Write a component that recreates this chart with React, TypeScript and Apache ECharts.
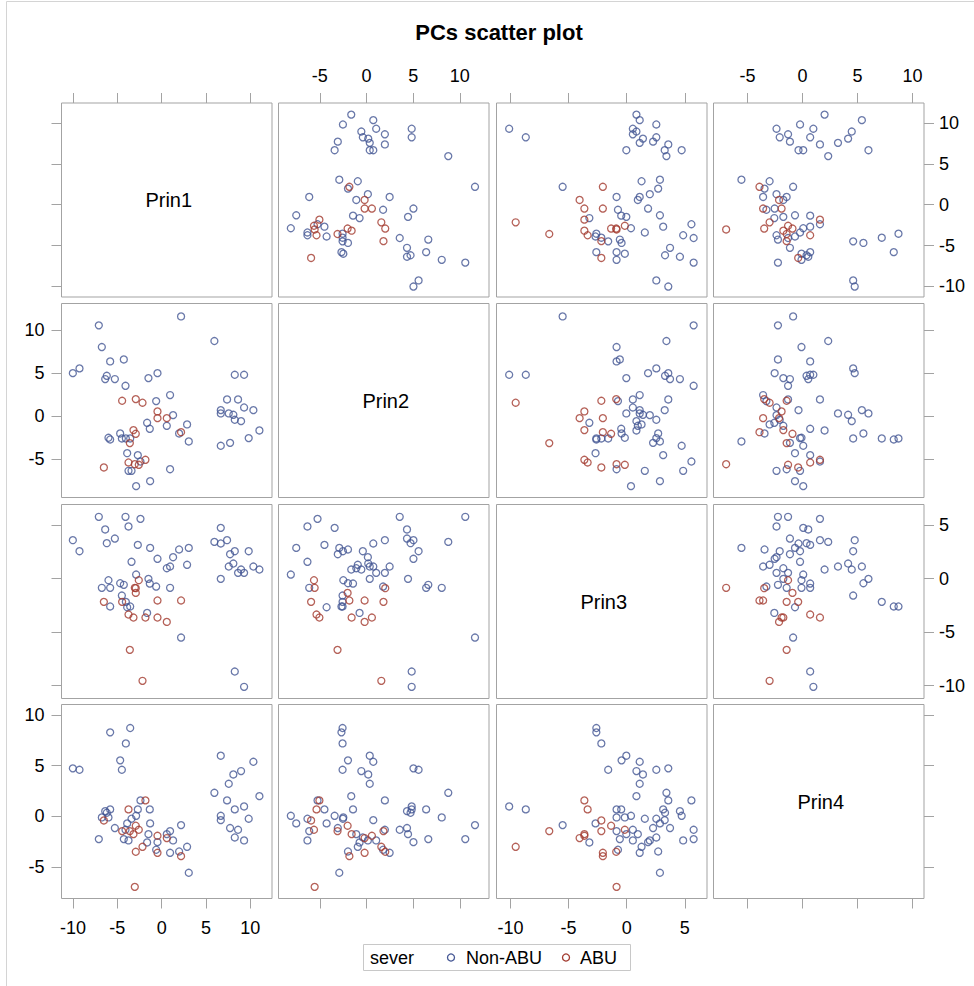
import React, { useEffect, useRef } from "react";
import * as echarts from "echarts";

// ---- data (principal component scores) ----
const VAR_NAMES = ["Prin1", "Prin2", "Prin3", "Prin4"];
const GROUP_NAMES = ["Non-ABU", "ABU"];
const LEGEND_TITLE = "sever";
const TITLE = "PCs scatter plot";

const nonAbuPrin1 = [6.67, 7.38, 5.95, 6.67, 8.25, 9.82, 7.72, 8.09, 7.57, 10.35, 8.96, 11.03, 8.62, 9.30, 6.67, 8.25, 9.30,
  -7.09, -4.08, -2.39, -3.74, -6.37, -5.28, -10.02, -6.19, -2.69, -1.30, 3.06, 1.97, -9.27, 1.29, -0.47, -3.40, 2.87, 0.95,
  0.58, -2.88, -1.49, -6.00, -4.68, -1.34, -4.27, -0.62, -6.75, -5.81, 0.95, -4.49, -4.04, -5.81, -3.55, -3.89, -1.64, 2.19];
const nonAbuPrin2 = [-3.41, 1.97, 8.76, 0.73, -0.39, -2.52, -3.07, 0.19, 0.35, 0.73, -0.55, -1.63, 1.97, 1.04, 0.35, 4.84, 4.84,
  10.58, 3.56, -5.24, -6.32, 4.34, 4.34, 5.03, 4.72, -4.50, -7.52, -2.91, -1.98, 5.58, 0.15, 5.03, -6.32, -0.93, 2.48,
  -1.09, -8.10, 4.45, -2.48, -1.98, -1.44, 6.62, 1.78, 8.06, 6.39, -6.13, -2.56, -2.56, -2.68, -2.56, -4.27, -0.74, 11.62];
const nonAbuPrin3 = [4.73, 3.58, 3.42, 3.27, 2.55, 2.55, 2.27, 1.40, 1.12, 1.12, 0.84, 0.84, 0.53, 0.53, -0.03, -8.68, -10.11,
  5.76, 5.76, 5.57, 4.86, 4.58, 3.73, 3.58, 3.30, 3.14, 2.86, 2.86, 2.71, 2.55, 1.99, 1.84, 1.56, 1.28, 1.12,
  0.96, 0.37, -0.03, -0.16, -0.44, -0.47, -0.59, -0.75, -0.87, -0.87, -0.87, -1.59, -2.18, -2.61, -2.61, -2.68, -3.21, -5.51];
const nonAbuPrin4 = [0.06, 1.58, 2.33, -0.37, -2.08, -0.23, -1.15, 4.14, 3.22, 5.39, 4.47, 2.00, -1.32, -2.37, 5.99, 0.69, 0.98,
  -2.24, -1.32, 1.58, -2.37, 0.52, -1.15, 4.74, 0.36, 0.69, -0.69, -5.56, -3.46, 4.60, -2.37, -2.54, -0.23, -3.00, -3.59,
  -1.75, 0.06, -1.75, -0.10, 5.53, 0.69, -2.24, -3.29, -0.10, 0.69, -1.45, 4.60, 7.20, 8.29, 8.72, -0.69, -2.57, -0.86];

const abuPrin1 = [-2.58, -3.03, -2.92, -6.52, -4.46, 2.19, -0.47, -2.92, -3.74, -3.18, -1.83, -0.47, 0.58, -3.59, -2.16];
const abuPrin2 = [-5.62, -5.55, -2.02, -5.93, 1.82, -1.83, -0.20, 2.01, -5.35, -1.59, -5.04, 0.58, -0.20, -3.10, 1.59];
const abuPrin3 = [-0.16, -0.87, -1.34, -2.18, -2.18, -2.05, -2.05, -0.90, -3.36, -3.64, -3.64, -3.64, -4.05, -6.66, -9.55];
const abuPrin4 = [-1.32, -6.95, -0.92, -0.40, -1.45, -3.92, -3.59, -3.49, 0.69, -1.75, 1.58, -1.91, -2.14, -1.45, -3.00];

// axis ticks and ranges per variable
const TICKS = [
  [-10, -5, 0, 5, 10],
  [-5, 0, 5, 10],
  [-10, -5, 0, 5],
  [-5, 0, 5, 10],
];
const AXIS_MIN = [-11.3, -9.42, -11.2, -8.1];
const AXIS_MAX = [12.45, 13.12, 6.91, 11.04];

// ---- layout ----
const COL_LEFT = [61.5, 278.5, 496.5, 713.5];
const ROW_TOP = [103, 303.5, 504.5, 704.5];
const CELL_W = 210.5;
const CELL_H = 194;
const FONT = "'Liberation Sans', Arial, sans-serif";
const BLUE = "#445694";
const RED = "#A23A2E";
const FRAME = "#a3a3a3";

export default function App() {
  const ref = useRef<HTMLDivElement>(null);

  useEffect(() => {
    if (!ref.current) return;
    const chart = echarts.init(ref.current, undefined, { renderer: "svg" });

    const nonAbu = [nonAbuPrin1, nonAbuPrin2, nonAbuPrin3, nonAbuPrin4];
    const abu = [abuPrin1, abuPrin2, abuPrin3, abuPrin4];

    const grids: any[] = [];
    const xAxes: any[] = [];
    const yAxes: any[] = [];
    const series: any[] = [];
    const graphics: any[] = [];

    graphics.push({
      type: "rect",
      z: -10,
      shape: { x: 6.5, y: 1.5, width: 1000, height: 1000 },
      style: { fill: "none", stroke: "#d4d4d4", lineWidth: 1 },
      silent: true,
    });

    for (let r = 0; r < 4; r++) {
      for (let c = 0; c < 4; c++) {
        const g = r * 4 + c;
        grids.push({
          left: COL_LEFT[c],
          top: ROW_TOP[r],
          width: CELL_W,
          height: CELL_H,
          show: true,
          borderColor: FRAME,
          borderWidth: 1,
          backgroundColor: "#fff",
        });
        const xTicks = r === 0 || r === 3;
        const xLabels = (r === 0 && c % 2 === 1) || (r === 3 && c % 2 === 0);
        xAxes.push({
          gridIndex: g,
          type: "value",
          min: AXIS_MIN[c],
          max: AXIS_MAX[c],
          position: r === 0 ? "top" : "bottom",
          axisLine: { show: false, onZero: false },
          splitLine: { show: false },
          axisTick: {
            show: xTicks,
            length: 10,
            customValues: TICKS[c],
            lineStyle: { color: FRAME, width: 1 },
          },
          axisLabel: {
            show: xLabels,
            customValues: TICKS[c],
            margin: r === 0 ? 18 : 20,
            fontSize: 18,
            fontFamily: FONT,
            color: "#000",
          },
        });
        const yTicks = c === 0 || c === 3;
        const yLabels = (c === 0 && r % 2 === 1) || (c === 3 && r % 2 === 0);
        yAxes.push({
          gridIndex: g,
          type: "value",
          min: AXIS_MIN[r],
          max: AXIS_MAX[r],
          position: c === 3 ? "right" : "left",
          axisLine: { show: false, onZero: false },
          splitLine: { show: false },
          axisTick: {
            show: yTicks,
            length: 10,
            customValues: TICKS[r],
            lineStyle: { color: FRAME, width: 1 },
          },
          axisLabel: {
            show: yLabels,
            customValues: TICKS[r],
            margin: c === 3 ? 15 : 17,
            fontSize: 18,
            fontFamily: FONT,
            color: "#000",
          },
        });

        if (r === c) {
          graphics.push({
            type: "text",
            x: COL_LEFT[c] + CELL_W / 2 + 2,
            y: ROW_TOP[r] + CELL_H / 2,
            style: {
              text: VAR_NAMES[r],
              align: "center",
              verticalAlign: "middle",
              fontSize: 20,
              fontFamily: FONT,
              fill: "#000",
            },
          });
        } else {
          const groups = [nonAbu, abu];
          const colors = [BLUE, RED];
          for (let k = 0; k < 2; k++) {
            const d = groups[k][c].map((v: number, i: number) => [v, groups[k][r][i]]);
            series.push({
              type: "scatter",
              name: GROUP_NAMES[k],
              xAxisIndex: g,
              yAxisIndex: g,
              data: d,
              symbol: "circle",
              symbolSize: 7,
              silent: true,
              itemStyle: { color: "rgba(0,0,0,0)", borderColor: colors[k], borderWidth: 1.3 },
              emphasis: { disabled: true },
            });
          }
        }
      }
    }

    // title
    graphics.push({
      type: "text",
      x: 499,
      y: 32,
      style: {
        text: TITLE,
        align: "center",
        verticalAlign: "middle",
        fontSize: 22,
        fontWeight: "bold",
        fontFamily: FONT,
        fill: "#000",
      },
    });

    // legend
    const ly = 957.5;
    graphics.push({
      type: "rect",
      shape: { x: 363.5, y: 944.5, width: 267, height: 26 },
      style: { fill: "#fff", stroke: "#c8c8c8", lineWidth: 1 },
    });
    graphics.push({
      type: "text",
      x: 370,
      y: ly,
      style: { text: LEGEND_TITLE, align: "left", verticalAlign: "middle", fontSize: 18, fontFamily: FONT, fill: "#000" },
    });
    graphics.push({
      type: "circle",
      shape: { cx: 451, cy: ly, r: 3.5 },
      style: { fill: "none", stroke: BLUE, lineWidth: 1.3 },
    });
    graphics.push({
      type: "text",
      x: 466,
      y: ly,
      style: { text: GROUP_NAMES[0], align: "left", verticalAlign: "middle", fontSize: 18, fontFamily: FONT, fill: "#000" },
    });
    graphics.push({
      type: "circle",
      shape: { cx: 566, cy: ly, r: 3.5 },
      style: { fill: "none", stroke: RED, lineWidth: 1.3 },
    });
    graphics.push({
      type: "text",
      x: 580,
      y: ly,
      style: { text: GROUP_NAMES[1], align: "left", verticalAlign: "middle", fontSize: 18, fontFamily: FONT, fill: "#000" },
    });

    chart.setOption({
      animation: false,
      backgroundColor: "#fff",
      grid: grids,
      xAxis: xAxes,
      yAxis: yAxes,
      series,
      graphic: graphics,
    });

    return () => chart.dispose();
  }, []);

  return (
    <div
      ref={ref}
      style={{ position: "absolute", left: 0, top: 0, width: 974, height: 986 }}
    />
  );
}
